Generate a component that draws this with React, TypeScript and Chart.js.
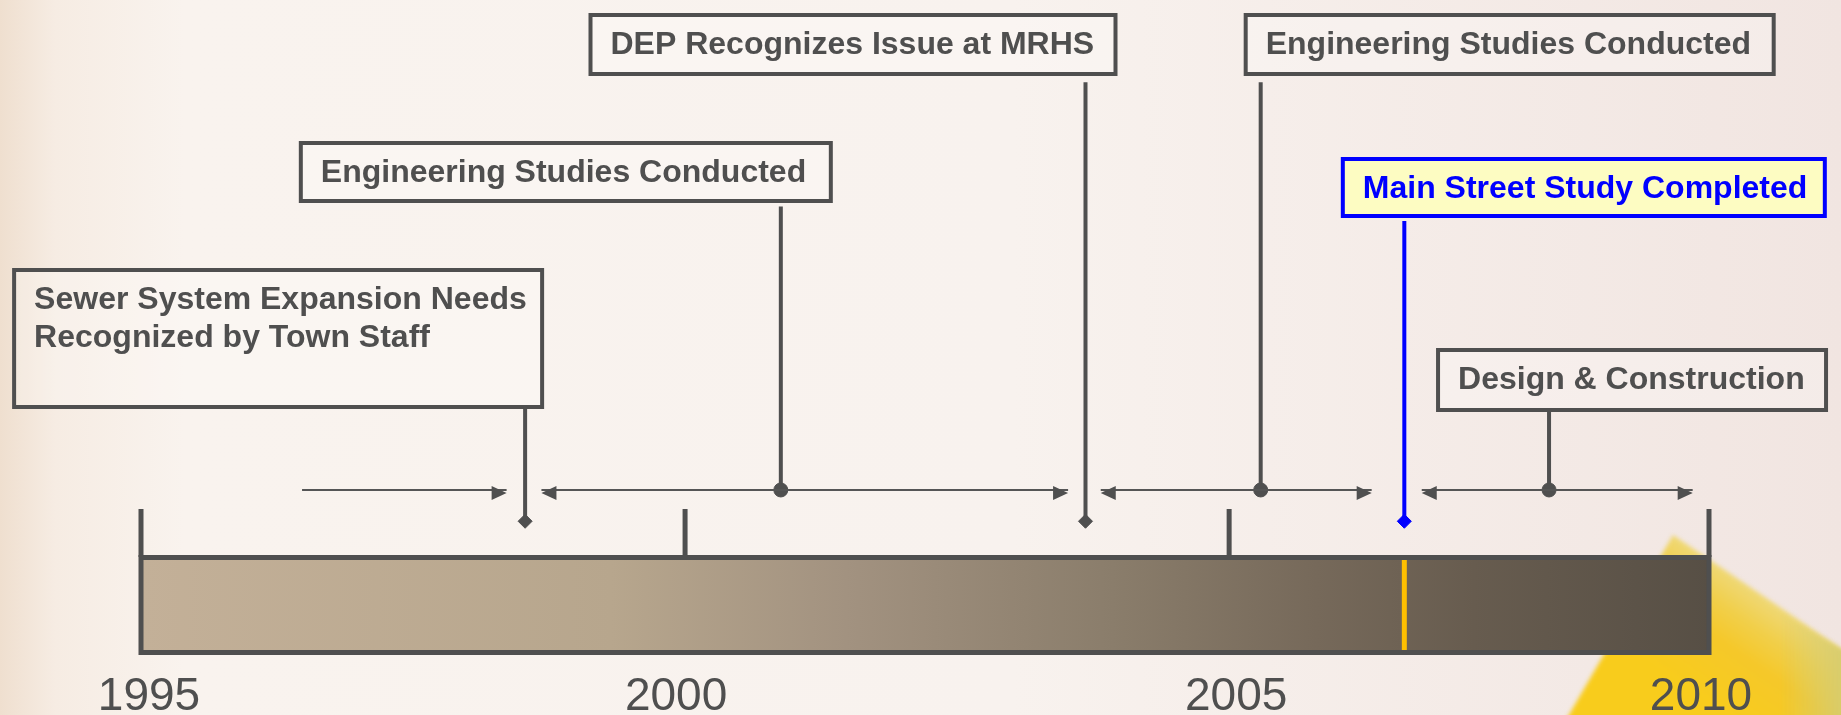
import React, { useEffect, useRef } from 'react';
import { Chart, registerables } from 'chart.js';

Chart.register(...registerables);

// ---------------- data ----------------
const AXIS_TICK_YEARS = [1995, 2000, 2005, 2009.41];
const AXIS_TICK_LABELS = ['1995', '2000', '2005', '2010'];

const EVENT_YEARS = [1998.53, 2000.88, 2003.68, 2005.29, 2006.61, 2007.94];
const EVENT_LABELS: string[][] = [
  ['Sewer System Expansion Needs', 'Recognized by Town Staff'],
  ['Engineering Studies Conducted'],
  ['DEP Recognizes Issue at MRHS'],
  ['Engineering Studies Conducted'],
  ['Main Street Study Completed'],
  ['Design & Construction'],
];
const EVENT_MARKERS = ['diamond', 'dot', 'diamond', 'dot', 'diamond', 'dot'];
const EVENT_HIGHLIGHT = [false, false, false, false, true, false];

const PERIOD_STARTS = [1996.48, 1998.68, 2003.82, 2006.77];
const PERIOD_ENDS = [1998.36, 2003.52, 2006.31, 2009.26];
const PERIOD_LEFT_HEAD = [false, true, true, true];

const CURRENT_YEAR_MARK = 2006.61;

// ---------------- layout / style ----------------
const W = 1841;
const H = 715;
const PLOT_LEFT = 141;
const PLOT_RIGHT = 1709;
const ARROW_Y = 493;
const DIAMOND_Y = 525;
const TICK_TOP = 509;
const BAR_TOP = 555;
const BAR_BOTTOM = 655;
const LABEL_BASELINE = 710;
const LABEL_DX = [8, -9, 7, -8];

// box geometry relative to the event's pixel x
const BOX_LAYOUT = [
  { dx: -513, w: 532, top: 268, h: 141 },
  { dx: -482, w: 534, top: 141, h: 62 },
  { dx: -497, w: 529, top: 13, h: 63 },
  { dx: -17, w: 532, top: 13, h: 63 },
  { dx: -63.5, w: 486, top: 157, h: 61 },
  { dx: -113, w: 392, top: 348, h: 64 },
];

const GRAY = '#4f4f4f';
const BLUE = '#0000ff';
const FONT = '"Liberation Sans", Arial, Helvetica, sans-serif';

const timelinePlugin = {
  id: 'timelineDecor',
  beforeDraw(chart: any) {
    const ctx = chart.ctx as CanvasRenderingContext2D;
    ctx.save();
    const bg = ctx.createLinearGradient(0, 0, W, 0);
    bg.addColorStop(0, '#efdfcf');
    bg.addColorStop(0.03, '#f6ece3');
    bg.addColorStop(0.1, '#f9f3ee');
    bg.addColorStop(0.55, '#f8f2ee');
    bg.addColorStop(1, '#f1e5e1');
    ctx.fillStyle = bg;
    ctx.fillRect(0, 0, W, H);

    // yellow ruler in the corner (soft focus)
    const rg = ctx.createLinearGradient(1757, 592, 1689, 691);
    rg.addColorStop(0, '#efd877');
    rg.addColorStop(0.25, '#f1cf4a');
    rg.addColorStop(0.5, '#f5c82a');
    rg.addColorStop(1, '#f8cc1c');
    ctx.filter = 'blur(2px)';
    ctx.beginPath();
    ctx.moveTo(1566, 720);
    ctx.lineTo(1673, 535);
    ctx.lineTo(1846, 652);
    ctx.lineTo(1846, 720);
    ctx.closePath();
    ctx.fillStyle = rg;
    ctx.fill();
    // greenish fade on far right
    const fg = ctx.createLinearGradient(1780, 0, 1841, 0);
    fg.addColorStop(0, 'rgba(214,204,110,0)');
    fg.addColorStop(1, 'rgba(214,204,110,0.9)');
    ctx.fillStyle = fg;
    ctx.beginPath();
    ctx.moveTo(1780, 612);
    ctx.lineTo(1846, 652);
    ctx.lineTo(1846, 720);
    ctx.lineTo(1780, 720);
    ctx.closePath();
    ctx.fill();
    ctx.filter = 'none';
    ctx.restore();
  },
  beforeDatasetsDraw(chart: any) {
    const ctx = chart.ctx as CanvasRenderingContext2D;
    const xs = chart.scales.x;
    const x0 = xs.getPixelForValue(AXIS_TICK_YEARS[0]);
    const x1 = xs.getPixelForValue(AXIS_TICK_YEARS[AXIS_TICK_YEARS.length - 1]);
    ctx.save();
    // bar
    const g = ctx.createLinearGradient(x0, 0, x1, 0);
    g.addColorStop(0, '#c3b098');
    g.addColorStop(0.3, '#b7a68d');
    g.addColorStop(0.45, '#a29280');
    g.addColorStop(0.62, '#8a7d6b');
    g.addColorStop(0.75, '#76695a');
    g.addColorStop(0.85, '#675c4f');
    g.addColorStop(1, '#574f45');
    ctx.fillStyle = g;
    ctx.fillRect(x0, BAR_TOP + 2.5, x1 - x0, BAR_BOTTOM - BAR_TOP - 5);
    ctx.lineWidth = 5;
    ctx.strokeStyle = GRAY;
    ctx.strokeRect(x0, BAR_TOP + 2.5, x1 - x0, BAR_BOTTOM - BAR_TOP - 5);

    // ticks
    AXIS_TICK_YEARS.forEach((yr) => {
      const px = xs.getPixelForValue(yr);
      ctx.beginPath();
      ctx.moveTo(px, TICK_TOP);
      ctx.lineTo(px, BAR_TOP + 2);
      ctx.stroke();
    });

    // current-year marker inside bar
    const mx = xs.getPixelForValue(CURRENT_YEAR_MARK);
    ctx.strokeStyle = '#ffc000';
    ctx.lineWidth = 5;
    ctx.beginPath();
    ctx.moveTo(mx, BAR_TOP + 5);
    ctx.lineTo(mx, BAR_BOTTOM - 5);
    ctx.stroke();

    // tick labels
    ctx.fillStyle = GRAY;
    ctx.font = `46px ${FONT}`;
    ctx.textAlign = 'center';
    ctx.textBaseline = 'alphabetic';
    AXIS_TICK_YEARS.forEach((yr, i) => {
      ctx.fillText(AXIS_TICK_LABELS[i], xs.getPixelForValue(yr) + LABEL_DX[i], LABEL_BASELINE);
    });

    // label boxes
    EVENT_YEARS.forEach((yr, i) => {
      const ex = xs.getPixelForValue(yr);
      const b = BOX_LAYOUT[i];
      const left = ex + b.dx;
      const hl = EVENT_HIGHLIGHT[i];
      ctx.fillStyle = hl ? '#fdfcc2' : 'rgba(255,255,255,0.25)';
      ctx.fillRect(left + 2, b.top + 2, b.w - 4, b.h - 4);
      ctx.lineWidth = 4;
      ctx.strokeStyle = hl ? BLUE : GRAY;
      ctx.strokeRect(left + 2, b.top + 2, b.w - 4, b.h - 4);
      ctx.fillStyle = hl ? BLUE : GRAY;
      ctx.font = `bold 32px ${FONT}`;
      ctx.textAlign = 'left';
      EVENT_LABELS[i].forEach((line, k) => {
        ctx.fillText(line, left + 22, b.top + 41 + k * 38);
      });
    });
    ctx.restore();
  },
  afterDatasetsDraw(chart: any) {
    const ctx = chart.ctx as CanvasRenderingContext2D;
    const xs = chart.scales.x;
    ctx.save();
    ctx.fillStyle = GRAY;
    const head = (tip: number, dir: number) => {
      ctx.beginPath();
      ctx.moveTo(tip, ARROW_Y);
      ctx.lineTo(tip - dir * 15, ARROW_Y - 7);
      ctx.lineTo(tip - dir * 15, ARROW_Y + 7);
      ctx.closePath();
      ctx.fill();
    };
    PERIOD_STARTS.forEach((s, i) => {
      head(xs.getPixelForValue(PERIOD_ENDS[i]), 1);
      if (PERIOD_LEFT_HEAD[i]) head(xs.getPixelForValue(s), -1);
    });
    ctx.restore();
  },
};

export default function App() {
  const ref = useRef<HTMLCanvasElement | null>(null);

  useEffect(() => {
    if (!ref.current) return;
    const datasets: any[] = [];
    PERIOD_STARTS.forEach((s, i) => {
      datasets.push({
        data: [
          { x: s, y: ARROW_Y },
          { x: PERIOD_ENDS[i], y: ARROW_Y },
        ],
        borderColor: '#555555',
        borderWidth: 2,
        pointRadius: 0,
      });
    });
    EVENT_YEARS.forEach((yr, i) => {
      const b = BOX_LAYOUT[i];
      const isDot = EVENT_MARKERS[i] === 'dot';
      const color = EVENT_HIGHLIGHT[i] ? BLUE : GRAY;
      datasets.push({
        data: [
          { x: yr, y: b.top + b.h },
          { x: yr, y: isDot ? ARROW_Y : DIAMOND_Y },
        ],
        borderColor: color,
        backgroundColor: color,
        borderWidth: 4,
        pointRadius: [0, 7],
        pointStyle: isDot ? 'circle' : 'rectRot',
        pointBorderWidth: 1,
        pointBorderColor: color,
        pointBackgroundColor: color,
      });
    });

    const chart = new Chart(ref.current, {
      type: 'line',
      data: { datasets },
      options: {
        animation: false,
        responsive: false,
        devicePixelRatio: 1,
        events: [],
        layout: { padding: { left: PLOT_LEFT, right: W - PLOT_RIGHT, top: 0, bottom: 0 } },
        plugins: { legend: { display: false }, tooltip: { enabled: false } },
        scales: {
          x: {
            type: 'linear',
            display: false,
            min: AXIS_TICK_YEARS[0],
            max: AXIS_TICK_YEARS[AXIS_TICK_YEARS.length - 1],
          },
          y: { type: 'linear', display: false, min: 0, max: H, reverse: true },
        },
      },
      plugins: [timelinePlugin],
    } as any);
    return () => chart.destroy();
  }, []);

  return (
    <div style={{ position: 'fixed', left: 0, top: 0, width: W, height: H }}>
      <canvas ref={ref} width={W} height={H} style={{ display: 'block' }} />
    </div>
  );
}
